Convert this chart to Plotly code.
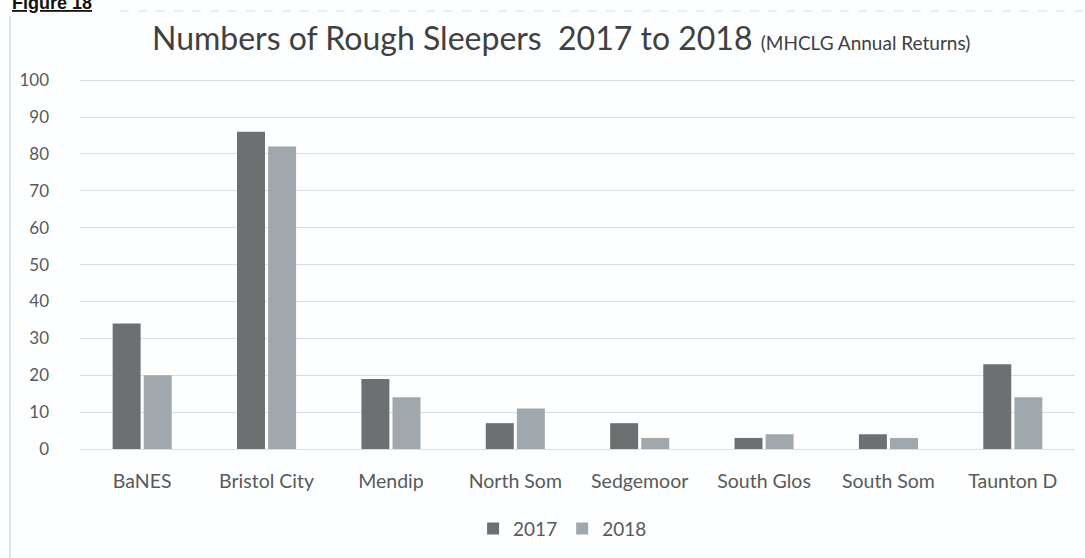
import plotly.graph_objects as go

categories = ["BaNES", "Bristol City", "Mendip", "North Som", "Sedgemoor", "South Glos", "South Som", "Taunton D"]
values_2017 = [34, 86, 19, 7, 7, 3, 4, 23]
values_2018 = [20, 82, 14, 11, 3, 4, 3, 14]
y_ticks = [0, 10, 20, 30, 40, 50, 60, 70, 80, 90, 100]

font_family = "Lato, 'Open Sans', sans-serif"

fig = go.Figure()
fig.add_trace(go.Bar(name="2017", x=categories, y=values_2017, marker_color="#6d7070",
                     marker_line_width=0))
fig.add_trace(go.Bar(name="2018", x=categories, y=values_2018, marker_color="#a0a8ae",
                     marker_line_width=0))

fig.update_layout(
    width=1085, height=558,
    margin=dict(l=80, r=10, t=78, b=109),
    paper_bgcolor="#fdfeff", plot_bgcolor="#fdfeff",
    barmode="group", bargap=0.5, bargroupgap=0.1,
    font=dict(family=font_family, color="#595959", size=16),
    showlegend=True,
    legend=dict(orientation="h", x=0.485, xanchor="center", y=-0.215, yanchor="middle",
                font=dict(size=19, color="#595959"), itemwidth=30, traceorder="normal"),
    xaxis=dict(showgrid=False, showline=False, ticks="", tickfont=dict(size=19.5, color="#595959"),
               ticklabelstandoff=18),
    yaxis=dict(range=[0, 100.6], tickvals=y_ticks, showgrid=True, gridcolor="#d8dee8",
               gridwidth=1, zeroline=True, zerolinecolor="#d8dee8", zerolinewidth=1,
               tickfont=dict(size=17, color="#595959"), ticks="", ticklabelstandoff=30,
               ticklabelposition="outside"),
)

fig.add_annotation(
    xref="paper", yref="paper", x=(561 - 80) / 995, y=1.11,
    xanchor="center", yanchor="middle", showarrow=False,
    text="Numbers of Rough Sleepers  2017 to 2018 <span style='font-size:19px'>(MHCLG Annual Returns)</span>",
    font=dict(size=32, color="#404040", family=font_family),
)

fig.add_annotation(
    xref="paper", yref="paper", x=(10 - 80) / 995, y=(449 - 3) / 371,
    xanchor="left", yanchor="middle", showarrow=False,
    text="<b><u>Figure 18</u></b>",
    font=dict(size=18, color="#111111", family="Liberation Sans, Arial, sans-serif"),
)

fig.add_shape(type="line", xref="paper", yref="paper",
              x0=(10 - 80) / 995, x1=(10 - 80) / 995, y0=(449 - 558) / 371, y1=(449 - 16) / 371,
              line=dict(color="#d5dbe6", width=1.5))
fig.add_shape(type="line", xref="paper", yref="paper",
              x0=(120 - 80) / 995, x1=(1085 - 80) / 995, y0=(449 - 11) / 371, y1=(449 - 11) / 371,
              line=dict(color="#e4e8ef", width=1.5, dash="dash"))

fig.write_html("out.html")
